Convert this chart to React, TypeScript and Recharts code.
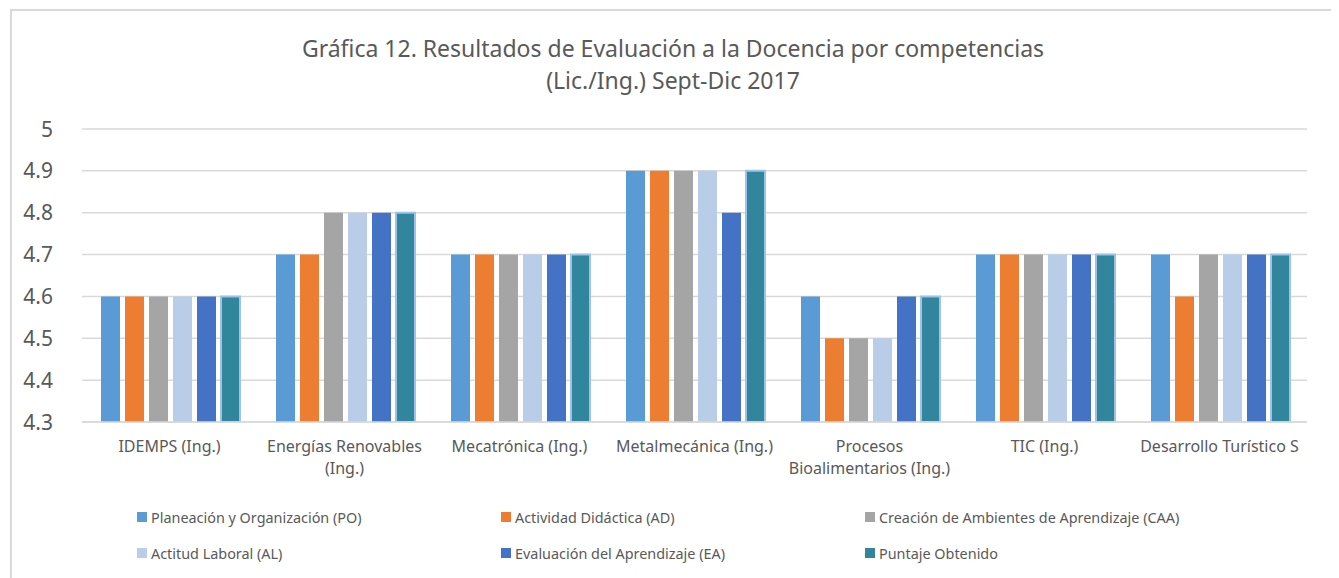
import { BarChart, Bar, XAxis, YAxis, CartesianGrid, Legend } from 'recharts'

const categories = [
  'IDEMPS  (Ing.)',
  'Energías Renovables (Ing.)',
  'Mecatrónica (Ing.)',
  'Metalmecánica (Ing.)',
  'Procesos Bioalimentarios (Ing.)',
  'TIC (Ing.)',
  'Desarrollo Turístico S',
]

const po = [4.6, 4.7, 4.7, 4.9, 4.6, 4.7, 4.7]
const ad = [4.6, 4.7, 4.7, 4.9, 4.5, 4.7, 4.6]
const caa = [4.6, 4.8, 4.7, 4.9, 4.5, 4.7, 4.7]
const al = [4.6, 4.8, 4.7, 4.9, 4.5, 4.7, 4.7]
const ea = [4.6, 4.8, 4.7, 4.8, 4.6, 4.7, 4.7]
const puntaje = [4.6, 4.8, 4.7, 4.9, 4.6, 4.7, 4.7]

const yTicks = [4.3, 4.4, 4.5, 4.6, 4.7, 4.8, 4.9, 5]

const series = [
  { key: 'po', name: 'Planeación y Organización (PO)', color: '#5b9bd5' },
  { key: 'ad', name: 'Actividad Didáctica (AD)', color: '#ed7d31' },
  { key: 'caa', name: 'Creación de Ambientes de Aprendizaje (CAA)', color: '#a5a5a5' },
  { key: 'al', name: 'Actitud Laboral (AL)', color: '#b9cde8' },
  { key: 'ea', name: 'Evaluación del Aprendizaje (EA)', color: '#4472c4' },
  { key: 'puntaje', name: 'Puntaje Obtenido', color: '#31859c' },
]

const data = categories.map((name, i) => ({
  name,
  po: po[i],
  ad: ad[i],
  caa: caa[i],
  al: al[i],
  ea: ea[i],
  puntaje: puntaje[i],
}))

const FONT = '"Noto Sans", sans-serif'
const TEXT = '#595959'

// rough greedy wrap, excel breaks long labels in two
function wrap(label: string, max = 22) {
  const words = label.split(' ')
  const lines: string[] = []
  let cur = ''
  for (const w of words) {
    const next = cur ? cur + ' ' + w : w
    if (next.length > max && cur) {
      lines.push(cur)
      cur = w
    } else {
      cur = next
    }
  }
  if (cur) lines.push(cur)
  return lines
}

function CategoryTick(props: any) {
  const { x, y, payload } = props
  const lines = wrap(payload.value)
  return (
    <text x={x} y={y} textAnchor="middle" fill={TEXT} fontSize={16} fontFamily={FONT}>
      {lines.map((l, i) => (
        <tspan key={i} x={x} dy={i === 0 ? 22 : 22}>
          {l}
        </tspan>
      ))}
    </text>
  )
}

function ValueTick(props: any) {
  const { x, y, payload } = props
  return (
    <text
      x={x - 21}
      y={y}
      dy={7.5}
      textAnchor="end"
      fill={TEXT}
      fontSize={21}
      fontFamily={FONT}
    >
      {payload.value}
    </text>
  )
}

function LegendBox() {
  return (
    <div
      style={{
        display: 'flex',
        flexWrap: 'wrap',
        paddingLeft: 125,
        height: 72,
        fontFamily: FONT,
        fontSize: 14.4,
        color: TEXT,
      }}
    >
      {series.map((s) => (
        <div
          key={s.key}
          style={{ width: 364, height: 36, display: 'flex', alignItems: 'center' }}
        >
          <span
            style={{
              width: 10,
              height: 10,
              background: s.color,
              marginRight: 4,
              flexShrink: 0,
            }}
          />
          <span>{s.name}</span>
        </div>
      ))}
    </div>
  )
}

export default function App() {
  return (
    <div
      style={{
        position: 'relative',
        marginLeft: 2,
        marginTop: 1,
        width: 1322,
        height: 575,
        border: '2px solid #d9d9d9',
        borderBottom: 'none',
        background: '#fff',
        overflow: 'hidden',
      }}
    >
      <div
        style={{
          position: 'absolute',
          top: 21,
          left: 0,
          width: '100%',
          textAlign: 'center',
          fontFamily: FONT,
          fontSize: 23,
          lineHeight: '32px',
          color: TEXT,
        }}
      >
        Gráfica 12. Resultados de Evaluación a la Docencia por competencias
        <br />
        (Lic./Ing.) Sept-Dic 2017
      </div>
      <BarChart
        width={1322}
        height={564}
        data={data}
        margin={{ top: 118, right: 27, bottom: 4, left: 20 }}
        barCategoryGap={19}
        barGap={5}
      >
        <CartesianGrid vertical={false} stroke="#d9d9d9" strokeWidth={1.5} />
        <XAxis
          dataKey="name"
          height={77}
          tickLine={false}
          axisLine={{ stroke: '#d9d9d9', strokeWidth: 1.5 }}
          tick={<CategoryTick />}
          interval={0}
        />
        <YAxis
          width={50}
          domain={[4.3, 5]}
          ticks={yTicks}
          tickLine={false}
          axisLine={false}
          tick={<ValueTick />}
          allowDataOverflow
        />
        <Legend
          verticalAlign="bottom"
          wrapperStyle={{ left: 0, width: 1322 }}
          content={() => <LegendBox />}
        />
        {series.map((s) => (
          <Bar
            key={s.key}
            dataKey={s.key}
            name={s.name}
            fill={s.color}
            stroke={s.key === 'puntaje' ? '#9dc3e6' : 'none'}
            strokeWidth={s.key === 'puntaje' ? 2 : 0}
            isAnimationActive={false}
          />
        ))}
      </BarChart>
    </div>
  )
}
